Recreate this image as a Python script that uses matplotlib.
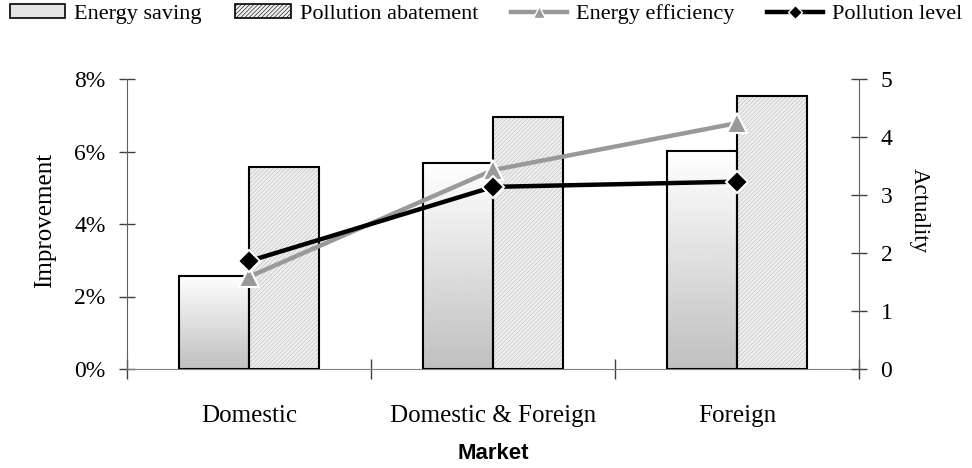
import numpy as np
import matplotlib
matplotlib.use("Agg")
import matplotlib.pyplot as plt
from matplotlib.patches import Patch
from matplotlib.lines import Line2D
from matplotlib.ticker import PercentFormatter

# Data
markets = ["Domestic", "Domestic & Foreign", "Foreign"]
energy_saving = [2.57, 5.69, 6.02]          # % improvement
pollution_abatement = [5.58, 6.94, 7.53]    # % improvement
energy_efficiency = [1.59, 3.43, 4.24]      # actuality
pollution_level = [1.86, 3.14, 3.23]        # actuality

plt.rcParams['font.family'] = ['Liberation Serif', 'DejaVu Serif']
plt.rcParams['hatch.linewidth'] = 0.4

fig = plt.figure(figsize=(9.72, 4.68), dpi=100)
ax = fig.add_axes([127 / 972, 1 - 369 / 468, 732 / 972, 290 / 468])
ax2 = ax.twinx()

x = np.arange(len(markets))
w = 0.287

# Energy saving bars with vertical gradient
bars1 = ax.bar(x - w / 2, energy_saving, w, facecolor='none', edgecolor='black',
               linewidth=1.5, zorder=3)
grad = np.linspace(1.0, 0.75, 256).reshape(-1, 1)
for b in bars1:
    bx, by = b.get_x(), b.get_y()
    bw, bh = b.get_width(), b.get_height()
    im = ax.imshow(grad, cmap='gray', vmin=0, vmax=1, aspect='auto',
                   extent=[bx, bx + bw, by, by + bh], origin='upper', zorder=2)
    im.set_clip_path(b)

# Pollution abatement bars, fine hatch
ax.bar(x + w / 2, pollution_abatement, w, facecolor='#efefef', edgecolor='#b8b8b8',
       hatch='////////', linewidth=0, zorder=2)
ax.bar(x + w / 2, pollution_abatement, w, facecolor='none', edgecolor='black',
       linewidth=1.5, zorder=3)

ax.set_xlim(-0.5, 2.5)
ax.set_ylim(0, 8)
ax.yaxis.set_major_formatter(PercentFormatter(decimals=0))
ax.set_yticks([0, 2, 4, 6, 8])

# Lines on secondary axis
ax2.plot(x, energy_efficiency, color='#999999', lw=3.2, marker='^', ms=15,
         mfc='#999999', mec='white', mew=1.5, zorder=4)
ax2.plot(x, pollution_level, color='black', lw=3.2, marker='D', ms=11,
         mfc='black', mec='white', mew=1.5, zorder=5)
ax2.set_ylim(0, 5)
ax2.set_yticks(range(6))

# Axis styling
for a in (ax, ax2):
    a.spines['top'].set_visible(False)
    a.spines['left'].set_color('#606060')
    a.spines['right'].set_color('#606060')
    a.spines['bottom'].set_color('#808080')
ax2.spines['bottom'].set_visible(False)
ax.spines['right'].set_visible(False)
ax2.spines['left'].set_visible(False)

ax.tick_params(axis='y', direction='inout', length=11, width=1, color='#404040',
               labelsize=17, pad=10)
ax2.tick_params(axis='y', direction='inout', length=11, width=1, color='#404040',
                labelsize=17, pad=10)
ax.set_xticks(x)
ax.set_xticklabels(markets)
ax.set_xticks([-0.5, 0.5, 1.5, 2.5], minor=True)
ax.tick_params(axis='x', which='major', length=0, labelsize=18, pad=26)
ax.tick_params(axis='x', which='minor', direction='inout', length=14, width=1,
               color='#404040')

ax.set_ylabel("Improvement", fontsize=18)
ax.yaxis.set_label_coords(-0.097, 0.514)
ax2.set_ylabel("Actuality", fontsize=16.5, rotation=270, va='center')
ax2.yaxis.set_label_coords(1.083, 0.548)
ax.set_xlabel("Market", fontsize=16, fontweight='bold',
              family=['Liberation Sans', 'DejaVu Sans'])
ax.xaxis.set_label_coords(0.5, -0.255)

# Legend
handles = [
    Patch(facecolor='#e4e4e4', edgecolor='black', linewidth=1.2),
    Patch(facecolor='#efefef', edgecolor='black', hatch='////////', linewidth=1.2),
    Line2D([], [], color='#999999', lw=3.2, marker='^', ms=9, mfc='#999999', mec='white'),
    Line2D([], [], color='black', lw=3.2, marker='D', ms=7, mfc='black', mec='white'),
]
labels = ["Energy saving", "Pollution abatement", "Energy efficiency", "Pollution level"]
fig.legend(handles, labels, loc='center', bbox_to_anchor=(0.5, 1 - 14 / 468), ncol=4,
           frameon=False, fontsize=16, handlelength=2.5, handleheight=0.55,
           handletextpad=0.4, columnspacing=1.5, borderaxespad=0, borderpad=0)

fig.savefig("out.png", dpi=100)
